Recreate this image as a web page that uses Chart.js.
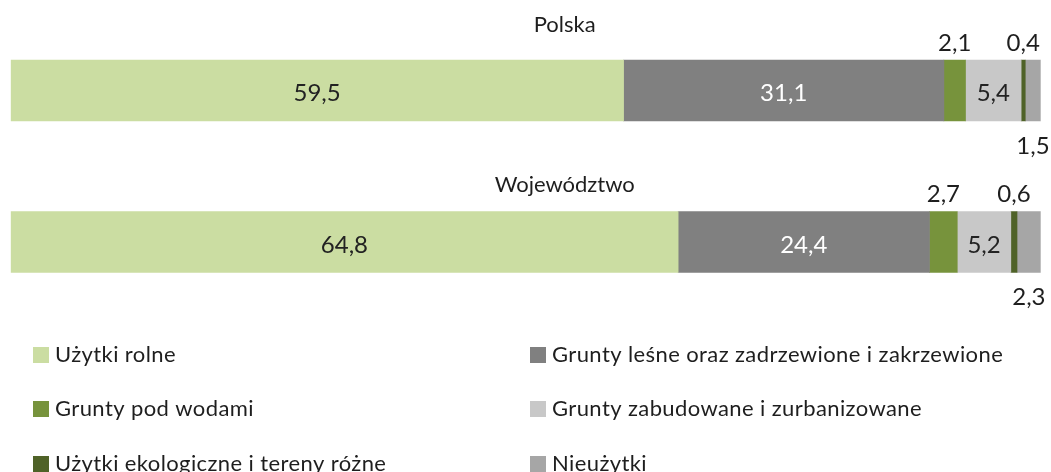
<!DOCTYPE html>
<html lang="pl">
<head>
<meta charset="utf-8">
<title>Struktura użytkowania gruntów</title>
<script src="https://cdn.jsdelivr.net/npm/chart.js@4/dist/chart.umd.min.js"></script>
<style>
  html, body { margin: 0; padding: 0; background: #fff; }
  #wrap { width: 1051px; height: 472px; position: relative; }
</style>
</head>
<body>
<div id="wrap"><canvas id="chart" width="1051" height="472"></canvas></div>
<script>
// data (percent of total area)
const categories = ['Polska', 'Województwo']
const seriesNames = [
  'Użytki rolne',
  'Grunty leśne oraz zadrzewione i zakrzewione',
  'Grunty pod wodami',
  'Grunty zabudowane i zurbanizowane',
  'Użytki ekologiczne i tereny różne',
  'Nieużytki'
]
const uzytkiRolne = [59.5, 64.8]
const gruntyLesne = [31.1, 24.4]
const gruntyPodWodami = [2.1, 2.7]
const gruntyZabudowane = [5.4, 5.2]
const uzytkiEkologiczne = [0.4, 0.6]
const nieuzytki = [1.5, 2.3]

const seriesColors = ['#cbdda2', '#808080', '#77933c', '#c8c8c8', '#4f6228', '#a6a6a6']
// where each series puts its value label: inside, above or below the bar
const labelPlace = ['inside', 'inside', 'above', 'inside', 'above', 'below']
const labelColors = ['#222', '#fff', '#222', '#222', '#222', '#222']

const FONT = 'Lato, "Liberation Sans", sans-serif'
const TEXT = '#1e1e1e'

const fmt = v => v.toFixed(1).replace('.', ',')

// value labels, placed like the Excel original
const valueLabels = {
  id: 'valueLabels',
  afterDatasetsDraw (chart) {
    const ctx = chart.ctx
    ctx.save()
    ctx.font = `24px ${FONT}`
    ctx.textAlign = 'center'
    ctx.textBaseline = 'middle'
    chart.data.datasets.forEach((ds, i) => {
      const meta = chart.getDatasetMeta(i)
      meta.data.forEach((bar, j) => {
        const cx = (bar.x + bar.base) / 2
        const half = bar.height / 2
        let y = bar.y + 3
        if (labelPlace[i] === 'above') y = bar.y - half - 17
        if (labelPlace[i] === 'below') y = bar.y + half + 25
        ctx.fillStyle = labelPlace[i] === 'inside' ? labelColors[i] : TEXT
        ctx.fillText(fmt(ds.data[j]), cx, y)
      })
    })
    ctx.restore()
  }
}

// category names above each bar
const titleOffsets = [35, 27]
const categoryTitles = {
  id: 'categoryTitles',
  afterDraw (chart) {
    const ctx = chart.ctx
    const area = chart.chartArea
    const yScale = chart.scales.y
    const bar = chart.getDatasetMeta(0).data
    ctx.save()
    ctx.font = `22px ${FONT}`
    ctx.fillStyle = TEXT
    ctx.textAlign = 'center'
    ctx.textBaseline = 'middle'
    categories.forEach((name, j) => {
      const top = yScale.getPixelForValue(j) - bar[j].height / 2
      ctx.fillText(name, (area.left + area.right) / 2 + 39, top - titleOffsets[j])
    })
    ctx.restore()
  }
}

// two-column legend under the bars
const gridLegend = {
  id: 'gridLegend',
  afterDraw (chart) {
    const ctx = chart.ctx
    const colX = [33, 530]
    const rowY = [355, 409, 464]
    ctx.save()
    ctx.font = `22px ${FONT}`
    ctx.letterSpacing = '0.4px'
    ctx.textBaseline = 'middle'
    ctx.textAlign = 'left'
    chart.data.datasets.forEach((ds, i) => {
      const x = colX[i % 2]
      const y = rowY[Math.floor(i / 2)]
      ctx.fillStyle = ds.backgroundColor
      ctx.fillRect(x, y - 8, 16, 16)
      ctx.fillStyle = TEXT
      ctx.fillText(ds.label, x + 22, y)
    })
    ctx.restore()
  }
}

const seriesValues = [uzytkiRolne, gruntyLesne, gruntyPodWodami, gruntyZabudowane, uzytkiEkologiczne, nieuzytki]

new Chart(document.getElementById('chart'), {
  type: 'bar',
  data: {
    labels: categories,
    datasets: seriesValues.map((values, i) => ({
      label: seriesNames[i],
      data: values,
      backgroundColor: seriesColors[i],
      borderWidth: 0,
      barThickness: 61
    }))
  },
  options: {
    indexAxis: 'y',
    responsive: false,
    animation: false,
    layout: { padding: { left: 10.7, right: 10.3, top: 14.75, bottom: 154.25 } },
    scales: {
      x: { stacked: true, min: 0, max: 100, display: false },
      y: { stacked: true, display: false }
    },
    plugins: {
      legend: { display: false },
      tooltip: { enabled: false }
    }
  },
  plugins: [valueLabels, categoryTitles, gridLegend]
})
</script>
</body>
</html>
